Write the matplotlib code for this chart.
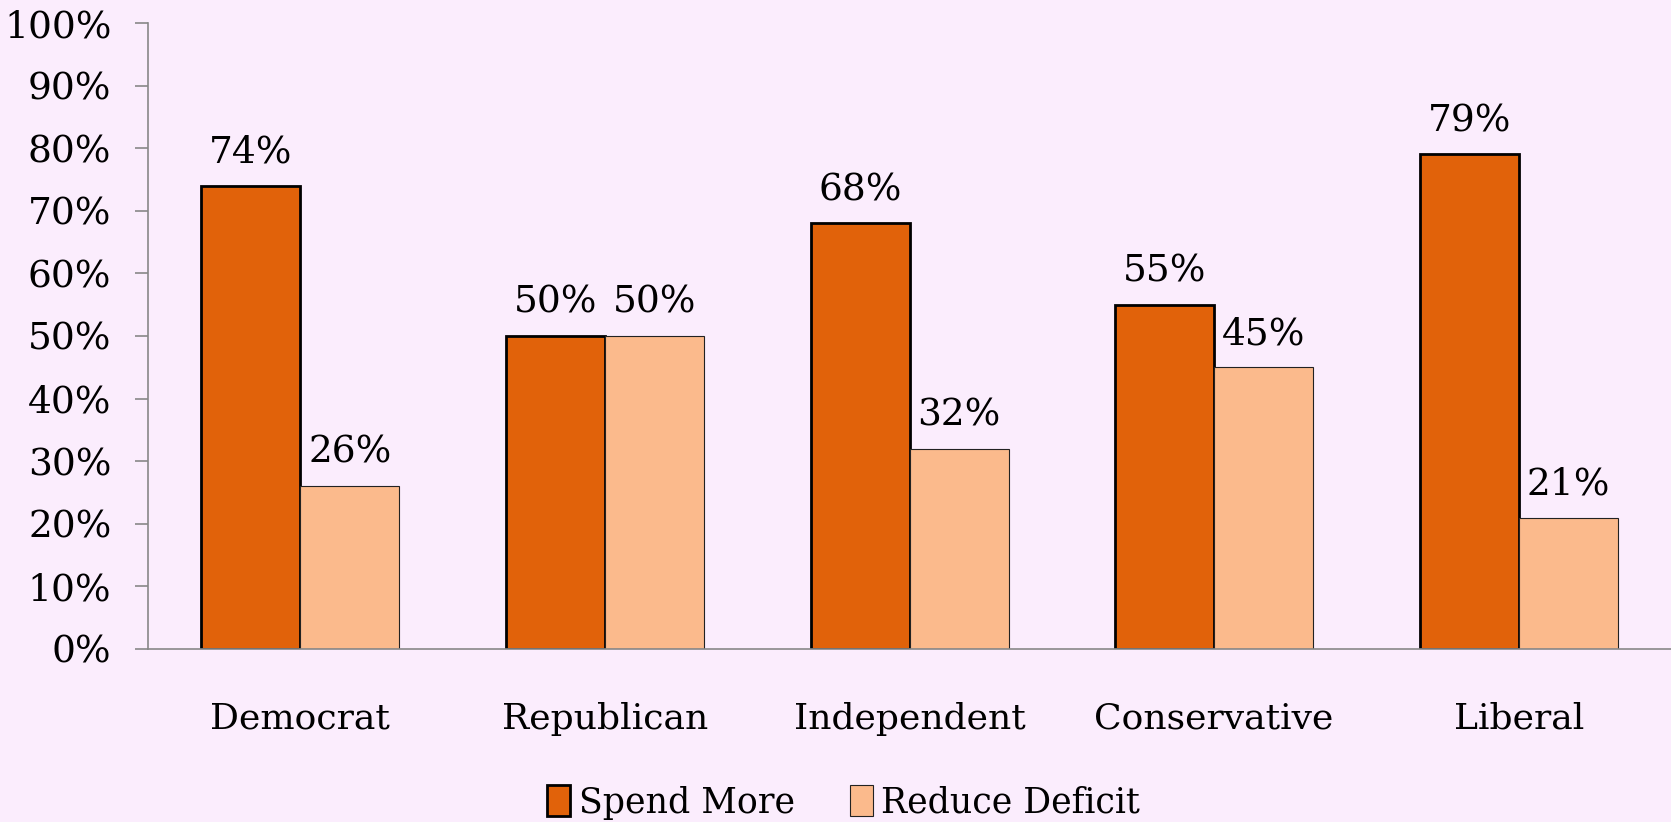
import numpy as np
import matplotlib
matplotlib.use('Agg')
import matplotlib.pyplot as plt
from matplotlib.ticker import PercentFormatter

# Data
categories = ['Democrat', 'Republican', 'Independent', 'Conservative', 'Liberal']
spend_more = [74, 50, 68, 55, 79]
reduce_deficit = [26, 50, 32, 45, 21]

bg = '#FBEDFD'
dark = '#E1620A'
light = '#FBBA8C'

plt.rcParams['font.family'] = ['DejaVu Serif']

fig = plt.figure(figsize=(16.71, 8.22), dpi=100, facecolor=bg)
ax = fig.add_axes([0.0886, 0.2105, 0.9114, 0.7615], facecolor=bg)

x = np.arange(len(categories))
w = 0.325
b1 = ax.bar(x - w / 2, spend_more, w, color=dark, edgecolor='black', linewidth=2, label='Spend More')
b2 = ax.bar(x + w / 2, reduce_deficit, w, color=light, edgecolor='#222222', linewidth=0.8, label='Reduce Deficit')

for bars, vals in [(b1, spend_more), (b2, reduce_deficit)]:
    for bar, v in zip(bars, vals):
        ax.annotate(f'{v}%', (bar.get_x() + bar.get_width() / 2, v),
                    xytext=(0, 11), textcoords='offset points',
                    ha='center', va='bottom', fontsize=27)

ax.set_xlim(-0.5, len(categories) - 0.5)
ax.set_ylim(0, 100)
ax.set_yticks(range(0, 101, 10))
ax.yaxis.set_major_formatter(PercentFormatter(decimals=0))
ax.set_xticks(x)
ax.set_xticklabels(categories, fontsize=26)
ax.tick_params(axis='x', length=0, pad=38)
ax.tick_params(axis='y', labelsize=27, length=9.4, color='#888888', width=1.2, pad=17)

for s in ['top', 'right']:
    ax.spines[s].set_visible(False)
ax.spines['left'].set_color('#888888')
ax.spines['bottom'].set_color('#888888')
ax.spines['left'].set_linewidth(1.2)
ax.spines['bottom'].set_linewidth(1.2)

fig.legend(loc='lower center', bbox_to_anchor=(0.505, -0.035), ncol=2, frameon=False,
           fontsize=25, handlelength=0.65, handleheight=1.0, handletextpad=0.25,
           columnspacing=1.6)

fig.savefig('out.png', dpi=100, facecolor=bg)
